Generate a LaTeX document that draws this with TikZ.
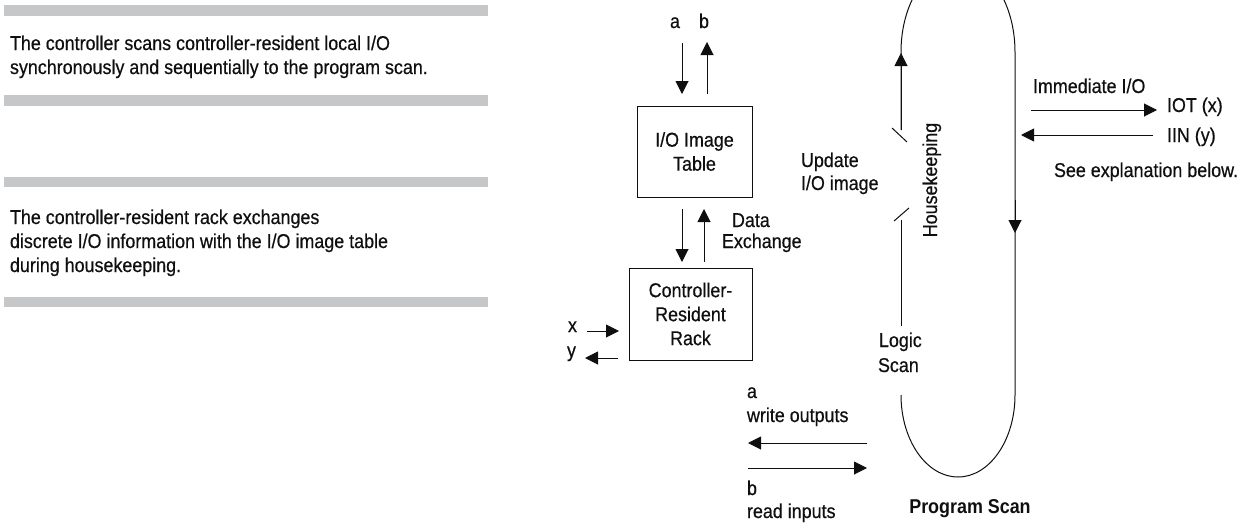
\documentclass[tikz,border=0pt]{standalone}
\usepackage{fontspec}
\setmainfont[FakeStretch=0.895, UprightFeatures={FakeBold=0.5}]{Liberation Sans}
\usetikzlibrary{arrows.meta}
\definecolor{barg}{RGB}{198,199,200}
\definecolor{ink}{RGB}{15,15,15}
\begin{document}
\begin{tikzpicture}[x=1pt,y=-1pt,
  every node/.style={inner sep=0pt, outer sep=0pt, text=ink, font=\fontsize{20}{24}\selectfont},
  txt/.style={anchor=base west},
  ctr/.style={anchor=base},
  ln/.style={line width=1pt, draw=ink},
  arr/.style={ln, -{Triangle[length=13pt,width=13pt]}},
  bar/.style={fill=barg, draw=none, minimum width=484pt, inner sep=0pt, anchor=north west},
  box/.style={draw=ink, line width=1pt, align=center}]
\useasboundingbox (0,0) rectangle (1251,525);
\clip (0,0) rectangle (1251,525);
% grey rules
\node[bar, minimum height=11pt] (bar1) at (4,5) {};
\node[bar, minimum height=11pt] (bar2) at (4,95) {};
\node[bar, minimum height=10pt] (bar3) at (4,177) {};
\node[bar, minimum height=10pt] (bar4) at (4,297) {};
% left texts
\node[txt] (t11) at (10,50) {The controller scans controller-resident local I/O};
\node[txt] (t12) at (10,74) {synchronously and sequentially to the program scan.};
\node[txt] (t21) at (10,224) {The controller-resident rack exchanges};
\node[txt] (t22) at (10,248) {discrete I/O information with the I/O image table};
\node[txt] (t23) at (10,272) {during housekeeping.};
% boxes
\node[box, minimum width=115pt, minimum height=91pt] (iot) at (694.5,151.5) {I/O Image\\Table};
\node[box, minimum width=123pt, minimum height=92pt] (rack) at (690.5,314) {Controller-\\Resident\\Rack};
% a b arrows
\node[ctr] (la) at (675,28) {a};
\node[ctr] (lb) at (704,28) {b};
\coordinate (aT) at (682,43); \coordinate (aB) at (682,94);
\coordinate (bB) at (707,94); \coordinate (bT) at (707,42);
\draw[arr] (aT) -- (aB);
\draw[arr] (bB) -- (bT);
% data exchange
\coordinate (d1) at (682,209); \coordinate (d2) at (682,262);
\coordinate (u1) at (704,262); \coordinate (u2) at (704,209);
\draw[arr] (d1) -- (d2);
\draw[arr] (u1) -- (u2);
\node[txt] (data) at (732,227) {Data};
\node[txt] (exch) at (722,248) {Exchange};
\node[txt] (upd) at (801,167) {Update};
\node[txt] (upd2) at (801,190) {I/O image};
% x y
\node[txt] (lx) at (568,332) {x};
\node[txt] (ly) at (567,357) {y};
\coordinate (x1) at (587,331); \coordinate (x2) at (619,331);
\coordinate (y1) at (618,358); \coordinate (y2) at (585,358);
\draw[arr] (x1) -- (x2);
\draw[arr] (y1) -- (y2);
% write / read
\node[txt] (wa) at (747,398) {a};
\node[txt] (wo) at (747,422) {write outputs};
\node[txt] (rb) at (747,495) {b};
\node[txt] (ri) at (747,518) {read inputs};
\coordinate (w1) at (867,443); \coordinate (w2) at (748,443);
\coordinate (r1) at (748,468); \coordinate (r2) at (867,468);
\draw[arr] (w1) -- (w2);
\draw[arr] (r1) -- (r2);
% program scan loop
\coordinate (Lb) at (901,395);
\coordinate (Rt) at (1015,52);
\draw[ln] (Lb) arc[start angle=180, end angle=0, x radius=57, y radius=82] -- (Rt)
  arc[start angle=0, end angle=-180, x radius=57, y radius=88] -- (901,130);
\draw[arr] (901,130) -- (901,53);
\draw[arr] (1015,200) -- (1015,233);
\draw[ln] (901,220) -- (901,326);
\draw[ln] (892,128) -- (907,142);
\draw[ln] (894,221) -- (909,208);
\node[rotate=90, anchor=base] (hk) at (937,180) {Housekeeping};
\node[txt] (lg) at (879,347) {Logic};
\node[txt] (sc) at (878,372) {Scan};
\node[ctr, font=\fontsize{20}{24}\selectfont\bfseries] (ps) at (970,513) {Program Scan};
% immediate I/O
\node[txt] (imm) at (1033,93) {Immediate I/O};
\coordinate (i1) at (1031,110); \coordinate (i2) at (1157,110);
\coordinate (n1) at (1153,135); \coordinate (n2) at (1021,135);
\draw[arr] (i1) -- (i2);
\draw[arr] (n1) -- (n2);
\node[txt] (iotx) at (1167,112) {IOT (x)};
\node[txt] (iin) at (1167,142) {IIN (y)};
\node[txt] (see) at (1054,177) {See explanation below.};
\end{tikzpicture}
\end{document}
